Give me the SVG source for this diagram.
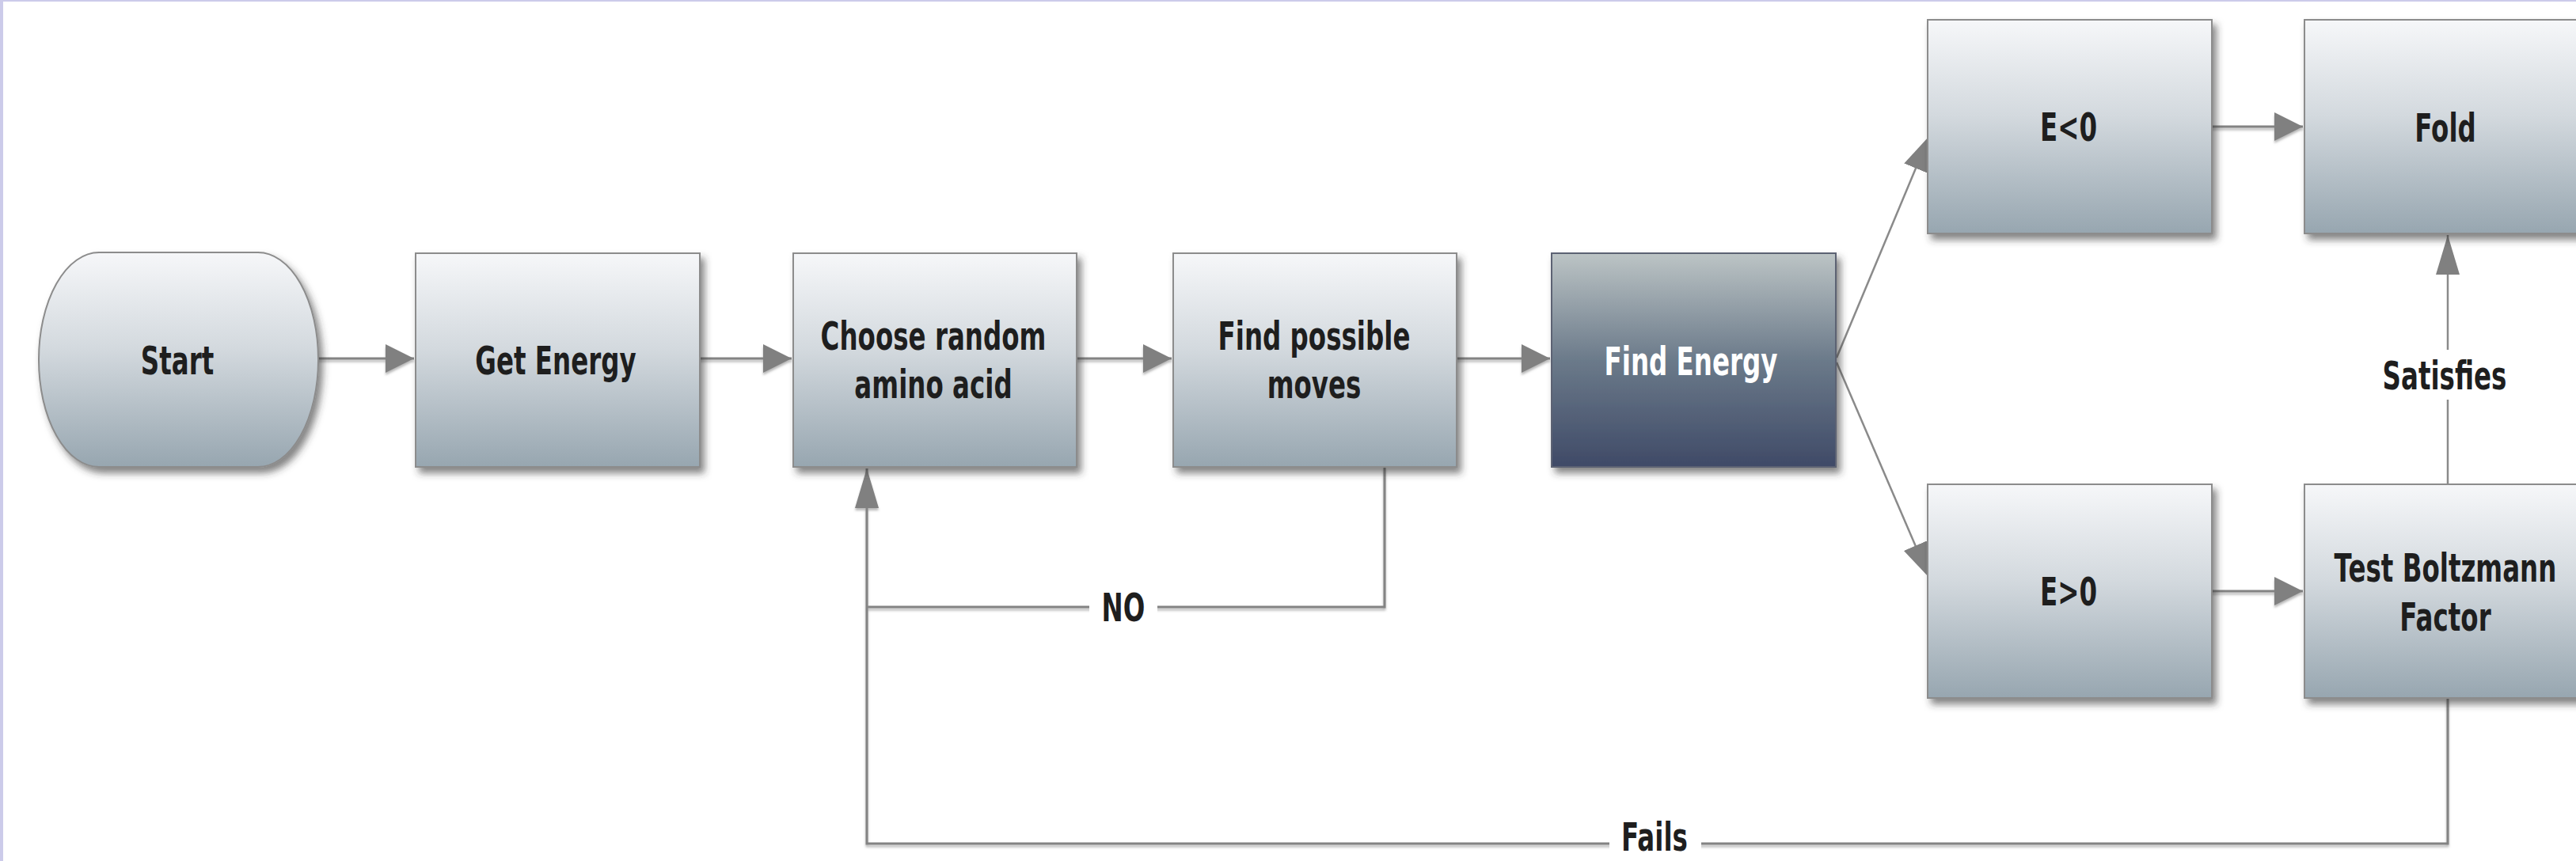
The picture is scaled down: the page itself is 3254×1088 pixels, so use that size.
<svg xmlns="http://www.w3.org/2000/svg" width="3254" height="1088" viewBox="0 0 3254 1088">
<defs>
<linearGradient id="gLight" x1="0" y1="0" x2="0" y2="1">
<stop offset="0" stop-color="#f6f7f9"/>
<stop offset="0.45" stop-color="#d3d9de"/>
<stop offset="1" stop-color="#97a6b0"/>
</linearGradient>
<linearGradient id="gDark" x1="0" y1="0" x2="0" y2="1">
<stop offset="0" stop-color="#bcc4c5"/>
<stop offset="0.5" stop-color="#6b7a8a"/>
<stop offset="1" stop-color="#3f4a67"/>
</linearGradient>
<filter id="shadow" x="-10%" y="-10%" width="125%" height="130%">
<feDropShadow dx="5" dy="7" stdDeviation="5" flood-color="#333" flood-opacity="0.6"/>
</filter>
<filter id="lshadow" filterUnits="userSpaceOnUse" x="0" y="0" width="3254" height="1088">
<feDropShadow dx="0" dy="3" stdDeviation="1.5" flood-color="#999" flood-opacity="0.7"/>
</filter>
<marker id="arrH" markerUnits="userSpaceOnUse" markerWidth="38" markerHeight="38" refX="36" refY="18" orient="auto">
<path d="M0,0 L36,18 L0,36 Z" fill="#808080"/>
</marker>
<marker id="arrV" markerUnits="userSpaceOnUse" markerWidth="52" markerHeight="32" refX="50" refY="15" orient="auto">
<path d="M0,0 L50,15 L0,30 Z" fill="#808080"/>
</marker>
<marker id="arrD" markerUnits="userSpaceOnUse" markerWidth="46" markerHeight="34" refX="44" refY="16" orient="auto">
<path d="M0,0 L44,16 L0,32 Z" fill="#808080"/>
</marker>
</defs>
<style>
.box{fill:url(#gLight);stroke:#8c8c8c;stroke-width:2;filter:url(#shadow)}
.dark{fill:url(#gDark);stroke:#5b6273;stroke-width:2;filter:url(#shadow)}
.lbl{font-family:"DejaVu Sans","Liberation Sans",sans-serif;font-weight:bold;font-size:50px;fill:#1e1e1e;text-anchor:middle}
.wht{fill:#ffffff}
.con{fill:none;stroke:#838383;stroke-width:3;filter:url(#lshadow)}
.thin{fill:none;stroke:#8a8a8a;stroke-width:2.5}
.bg{fill:#ffffff}
</style>
<rect x="0" y="0" width="3254" height="1088" fill="#ffffff"/>
<rect x="0" y="0" width="4" height="1088" fill="#cccbea"/>
<rect x="0" y="0" width="3254" height="2" fill="#cccbea"/>

<g id="connectors">
<path class="con" d="M402,453 H523" marker-end="url(#arrH)"/>
<path class="con" d="M884,453 H1000" marker-end="url(#arrH)"/>
<path class="con" d="M1360,453 H1480" marker-end="url(#arrH)"/>
<path class="con" d="M1840,453 H1958" marker-end="url(#arrH)"/>
<path class="thin" d="M2320,452 L2437,172" marker-end="url(#arrD)"/>
<path class="thin" d="M2320,458 L2437,730" marker-end="url(#arrD)"/>
<path class="con" d="M2794,160 H2909" marker-end="url(#arrH)"/>
<path class="con" d="M2794,747 H2909" marker-end="url(#arrH)"/>
<path class="thin" d="M3092,612 V297" marker-end="url(#arrV)"/>
<path class="con" d="M1749,590 V767 H1095"/>
<path class="con" d="M3092,882 V1066 H1095 V592" marker-end="url(#arrV)"/>
<rect class="bg" x="3040" y="442" width="104" height="63"/>
<rect class="bg" x="1376" y="742" width="86" height="50"/>
<rect class="bg" x="2033" y="1036" width="116" height="44"/>
<g transform="translate(3088,492) scale(0.65,1)"><text class="lbl" x="0" y="0">Satisfies</text></g>
<g transform="translate(1419,785) scale(0.65,1)"><text class="lbl" x="0" y="0">NO</text></g>
<g transform="translate(2090,1075) scale(0.65,1)"><text class="lbl" x="0" y="0">Fails</text></g>
</g>

<g id="start">
<rect class="box" x="49" y="319" width="353" height="271" rx="76" ry="135"/>
<g transform="translate(224,473) scale(0.65,1)"><text class="lbl" x="0" y="0">Start</text></g>
</g>
<g id="get-energy">
<rect class="box" x="525" y="320" width="359" height="270"/>
<g transform="translate(702,473) scale(0.65,1)"><text class="lbl" x="0" y="0">Get Energy</text></g>
</g>
<g id="choose-random">
<rect class="box" x="1002" y="320" width="358" height="270"/>
<g transform="translate(1179,442) scale(0.65,1)"><text class="lbl" x="0" y="0">Choose random</text></g>
<g transform="translate(1179,503) scale(0.65,1)"><text class="lbl" x="0" y="0">amino acid</text></g>
</g>
<g id="find-moves">
<rect class="box" x="1482" y="320" width="358" height="270"/>
<g transform="translate(1660,442) scale(0.65,1)"><text class="lbl" x="0" y="0">Find possible</text></g>
<g transform="translate(1660,503) scale(0.65,1)"><text class="lbl" x="0" y="0">moves</text></g>
</g>
<g id="find-energy">
<rect class="dark" x="1960" y="320" width="359" height="270"/>
<g transform="translate(2136,474) scale(0.65,1)"><text class="lbl wht" x="0" y="0">Find Energy</text></g>
</g>
<g id="e-neg">
<rect class="box" x="2435" y="25" width="359" height="270"/>
<g transform="translate(2613,178) scale(0.65,1)"><text class="lbl" x="0" y="0">E&lt;0</text></g>
</g>
<g id="fold">
<rect class="box" x="2911" y="25" width="359" height="270"/>
<g transform="translate(3089,179) scale(0.65,1)"><text class="lbl" x="0" y="0">Fold</text></g>
</g>
<g id="e-pos">
<rect class="box" x="2435" y="612" width="359" height="270"/>
<g transform="translate(2613,765) scale(0.65,1)"><text class="lbl" x="0" y="0">E&gt;0</text></g>
</g>
<g id="test-boltzmann">
<rect class="box" x="2911" y="612" width="359" height="270"/>
<g transform="translate(3089,735) scale(0.65,1)"><text class="lbl" x="0" y="0">Test Boltzmann</text></g>
<g transform="translate(3089,797) scale(0.65,1)"><text class="lbl" x="0" y="0">Factor</text></g>
</g>
</svg>
